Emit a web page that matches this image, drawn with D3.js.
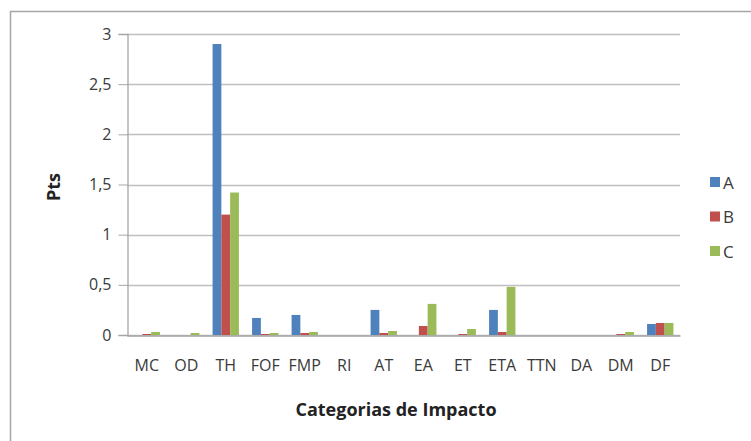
<!DOCTYPE html>
<html><head><meta charset="utf-8">
<script src="https://cdn.jsdelivr.net/npm/d3@7"></script>
<style>body{margin:0;background:#fff}svg{display:block}text{font-family:"Open Sans","Liberation Sans",sans-serif}</style>
</head><body><svg id="c" width="751" height="441"></svg>
<script>
const categories = ["MC","OD","TH","FOF","FMP","RI","AT","EA","ET","ETA","TTN","DA","DM","DF"];
const seriesNames = ["A","B","C"];
const valuesA = [0,0,2.9,0.17,0.2,0,0.25,0,0,0.25,0,0,0,0.11];
const valuesB = [0.01,0,1.2,0.01,0.02,0,0.02,0.09,0.01,0.03,0,0,0.01,0.12];
const valuesC = [0.03,0.02,1.42,0.02,0.03,0,0.04,0.31,0.06,0.48,0,0,0.03,0.12];
const colors = ["#4F81BD","#C0504D","#9BBB59"];
const yTicks = [0,0.5,1,1.5,2,2.5,3];
const yTickLabels = ["0","0,5","1","1,5","2","2,5","3"];

const series = [valuesA, valuesB, valuesC];
const svg = d3.select("#c");
svg.append("rect").attr("x",10.5).attr("y",11.5).attr("width",800).attr("height",500)
  .attr("fill","#fff").attr("stroke","#a6a6a6").attr("stroke-width",1.5);

const x0 = d3.scaleBand().domain(categories).range([127,680]).paddingInner(0.333).paddingOuter(0.1665);
const x1 = d3.scaleBand().domain(seriesNames).range([0,x0.bandwidth()]);
const y = d3.scaleLinear().domain([0,3]).range([335,34]);

// gridlines
svg.append("g").selectAll("line").data(yTicks).join("line")
  .attr("x1",127).attr("x2",680).attr("y1",d=>Math.round(y(d))+0.5).attr("y2",d=>Math.round(y(d))+0.5)
  .attr("stroke","#bfbfbf").attr("stroke-width",1.3);

// y axis
const yAxis = d3.axisLeft(y).tickValues(yTicks).tickFormat((d,i)=>yTickLabels[i]).tickSize(9).tickPadding(7);
const gy = svg.append("g").attr("transform","translate(127.5,0)").call(yAxis);
gy.select(".domain").attr("stroke","#a6a6a6").attr("stroke-width",1.3);
gy.selectAll(".tick line").attr("stroke","#a6a6a6");
gy.selectAll("text").attr("font-size",16).attr("fill","#3a3a3a");

// bars
const groups = svg.append("g").selectAll("g").data(categories).join("g")
  .attr("transform",d=>`translate(${x0(d)},0)`);
groups.selectAll("rect").data((d,i)=>series.map((s,j)=>({name:seriesNames[j],v:s[i],c:colors[j]})))
  .join("rect").attr("x",d=>x1(d.name)).attr("width",x1.bandwidth())
  .attr("y",d=>y(d.v)).attr("height",d=>y(0)-y(d.v)).attr("fill",d=>d.c);

// x axis
const xAxis = d3.axisBottom(x0).tickSize(0).tickPadding(24);
const gx = svg.append("g").attr("transform","translate(0,335.5)").call(xAxis);
gx.select(".domain").attr("stroke","#a6a6a6").attr("stroke-width",1.3);
gx.selectAll("text").attr("font-size",16).attr("fill","#3a3a3a");

// titles
svg.append("text").attr("x",396).attr("y",416).attr("text-anchor","middle")
  .attr("font-size",18).attr("font-weight","bold").attr("fill","#222").text("Categorias de Impacto");
svg.append("text").attr("transform","translate(60,187) rotate(-90)").attr("text-anchor","middle")
  .attr("font-size",18).attr("font-weight","bold").attr("fill","#222").text("Pts");

// legend
const leg = svg.append("g").selectAll("g").data(seriesNames).join("g")
  .attr("transform",(d,i)=>`translate(710,${182+i*34.5})`);
leg.append("rect").attr("x",0).attr("y",-5).attr("width",10).attr("height",10).attr("fill",(d,i)=>colors[i]);
leg.append("text").attr("x",13).attr("y",6.5).attr("font-size",17).attr("fill","#3a3a3a").text(d=>d);
</script></body></html>
